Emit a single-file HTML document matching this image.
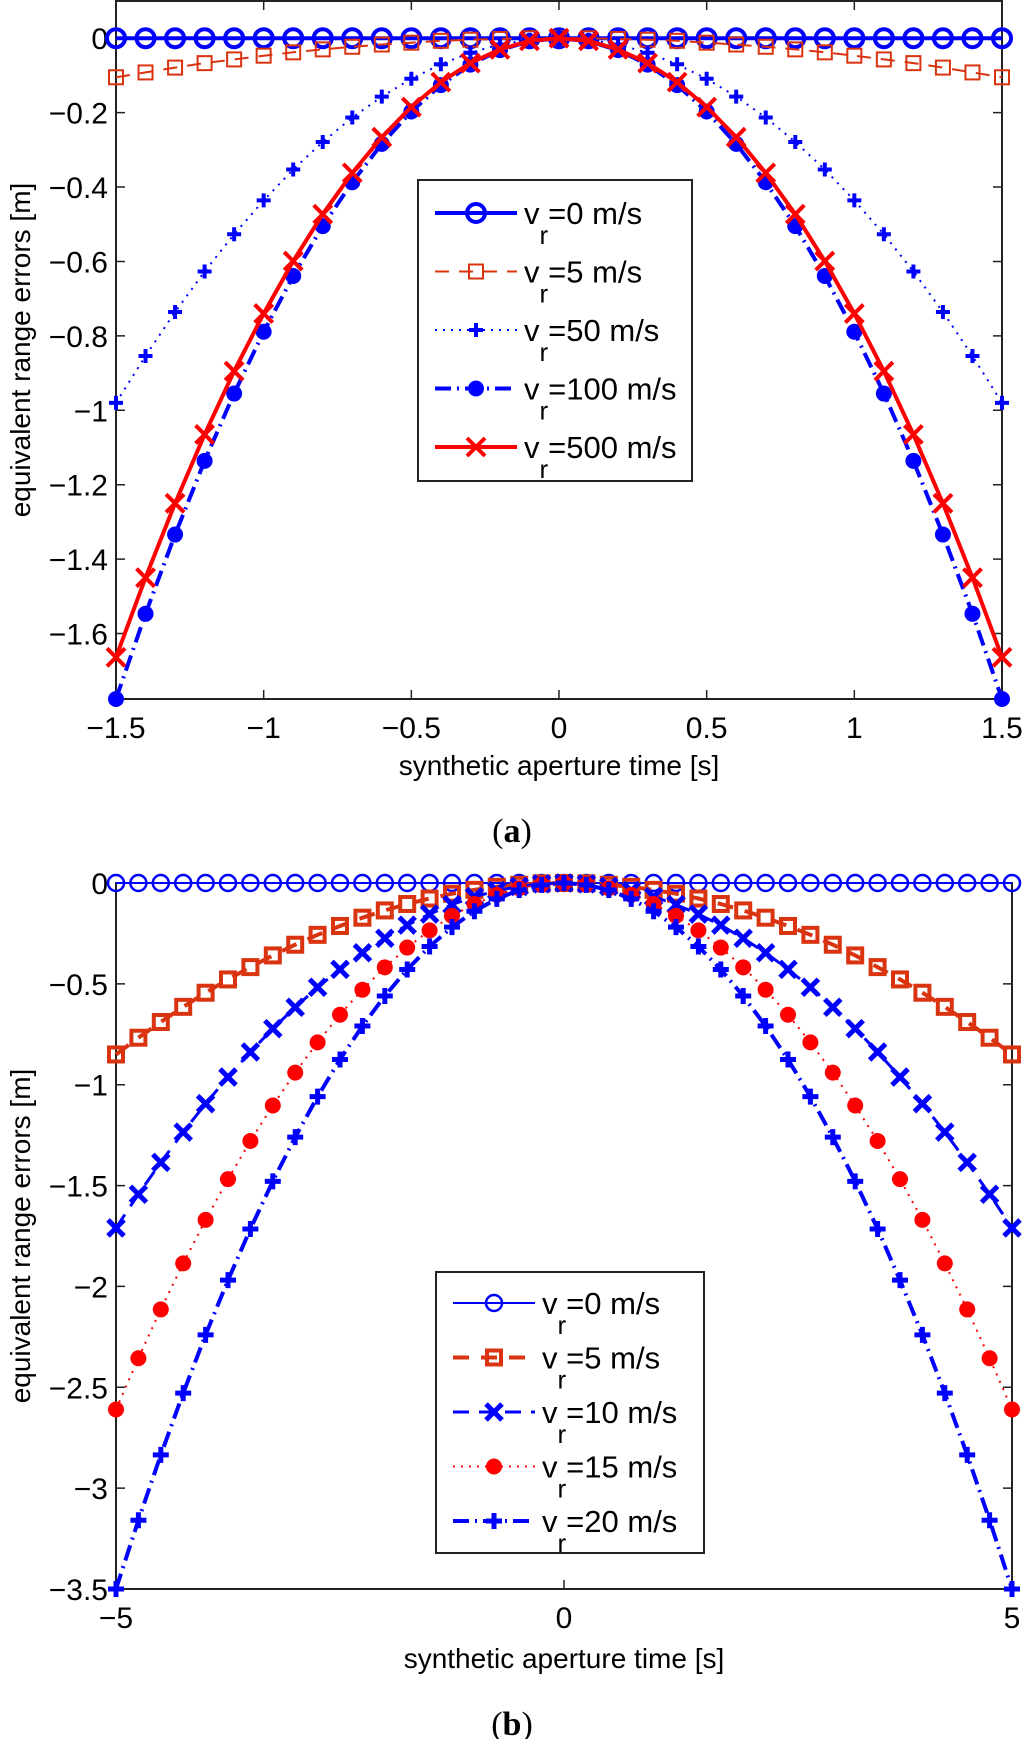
<!DOCTYPE html>
<html><head><meta charset="utf-8"><title>Equivalent range errors</title>
<style>
html,body{margin:0;padding:0;background:#fff;}
svg{display:block;font-family:"Liberation Sans",Arial,sans-serif;}
</style></head>
<body>
<svg id="fig" width="1024" height="1739" viewBox="0 0 1024 1739" xmlns="http://www.w3.org/2000/svg"></svg>
<script>
// ---------- Panel (a) data ----------
const timeA = [-1.5,-1.4,-1.3,-1.2,-1.1,-1.0,-0.9,-0.8,-0.7,-0.6,-0.5,-0.4,-0.3,-0.2,-0.1,0,0.1,0.2,0.3,0.4,0.5,0.6,0.7,0.8,0.9,1.0,1.1,1.2,1.3,1.4,1.5];
const a_v0 = [0,0,0,0,0,0,0,0,0,0,0,0,0,0,0,0,0,0,0,0,0,0,0,0,0,0,0,0,0,0,0];
const a_v5 = [-0.105,-0.092,-0.079,-0.067,-0.057,-0.047,-0.038,-0.030,-0.023,-0.017,-0.012,-0.007,-0.004,-0.002,0,0,0,-0.002,-0.004,-0.007,-0.012,-0.017,-0.023,-0.030,-0.038,-0.047,-0.057,-0.067,-0.079,-0.092,-0.105];
const a_v50 = [-0.980,-0.854,-0.736,-0.627,-0.527,-0.436,-0.353,-0.279,-0.213,-0.157,-0.109,-0.070,-0.039,-0.017,-0.004,0,-0.004,-0.017,-0.039,-0.070,-0.109,-0.157,-0.213,-0.279,-0.353,-0.436,-0.527,-0.627,-0.736,-0.854,-0.980];
const a_v100 = [-1.776,-1.547,-1.334,-1.136,-0.955,-0.789,-0.639,-0.505,-0.387,-0.284,-0.197,-0.126,-0.071,-0.032,-0.008,0,-0.008,-0.032,-0.071,-0.126,-0.197,-0.284,-0.387,-0.505,-0.639,-0.789,-0.955,-1.136,-1.334,-1.547,-1.776];
const a_v500 = [-1.664,-1.450,-1.250,-1.065,-0.895,-0.740,-0.599,-0.473,-0.362,-0.266,-0.185,-0.118,-0.067,-0.030,-0.007,0,-0.007,-0.030,-0.067,-0.118,-0.185,-0.266,-0.362,-0.473,-0.599,-0.740,-0.895,-1.065,-1.250,-1.450,-1.664];
const a_xticks = [-1.5,-1,-0.5,0,0.5,1,1.5];
const a_xtickLabels = ["\u22121.5","\u22121","\u22120.5","0","0.5","1","1.5"];
const a_yticks = [0,-0.2,-0.4,-0.6,-0.8,-1,-1.2,-1.4,-1.6];
const a_ytickLabels = ["0","\u22120.2","\u22120.4","\u22120.6","\u22120.8","\u22121","\u22121.2","\u22121.4","\u22121.6"];

// ---------- Panel (b) data ----------
const timeB = [-5,-4.75,-4.5,-4.25,-4,-3.75,-3.5,-3.25,-3,-2.75,-2.5,-2.25,-2,-1.75,-1.5,-1.25,-1,-0.75,-0.5,-0.25,0,0.25,0.5,0.75,1,1.25,1.5,1.75,2,2.25,2.5,2.75,3,3.25,3.5,3.75,4,4.25,4.5,4.75,5];
const b_v0 = [0,0,0,0,0,0,0,0,0,0,0,0,0,0,0,0,0,0,0,0,0,0,0,0,0,0,0,0,0,0,0,0,0,0,0,0,0,0,0,0,0];
const b_v5 = [-0.850,-0.767,-0.689,-0.614,-0.544,-0.478,-0.417,-0.359,-0.306,-0.257,-0.213,-0.172,-0.136,-0.104,-0.077,-0.053,-0.034,-0.019,-0.009,-0.002,0,-0.002,-0.009,-0.019,-0.034,-0.053,-0.077,-0.104,-0.136,-0.172,-0.213,-0.257,-0.306,-0.359,-0.417,-0.478,-0.544,-0.614,-0.689,-0.767,-0.850];
const b_v10 = [-1.710,-1.543,-1.385,-1.235,-1.094,-0.962,-0.838,-0.722,-0.616,-0.517,-0.428,-0.346,-0.274,-0.209,-0.154,-0.107,-0.068,-0.038,-0.017,-0.004,0,-0.004,-0.017,-0.038,-0.068,-0.107,-0.154,-0.209,-0.274,-0.346,-0.428,-0.517,-0.616,-0.722,-0.838,-0.962,-1.094,-1.235,-1.385,-1.543,-1.710];
const b_v15 = [-2.610,-2.356,-2.114,-1.886,-1.670,-1.468,-1.279,-1.103,-0.940,-0.790,-0.653,-0.529,-0.418,-0.320,-0.235,-0.163,-0.104,-0.059,-0.026,-0.007,0,-0.007,-0.026,-0.059,-0.104,-0.163,-0.235,-0.320,-0.418,-0.529,-0.653,-0.790,-0.940,-1.103,-1.279,-1.468,-1.670,-1.886,-2.114,-2.356,-2.610];
const b_v20 = [-3.500,-3.159,-2.835,-2.529,-2.240,-1.969,-1.715,-1.479,-1.260,-1.059,-0.875,-0.709,-0.560,-0.429,-0.315,-0.219,-0.140,-0.079,-0.035,-0.009,0,-0.009,-0.035,-0.079,-0.140,-0.219,-0.315,-0.429,-0.560,-0.709,-0.875,-1.059,-1.260,-1.479,-1.715,-1.969,-2.240,-2.529,-2.835,-3.159,-3.500];
const b_xticks = [-5,0,5];
const b_xtickLabels = ["\u22125","0","5"];
const b_yticks = [0,-0.5,-1,-1.5,-2,-2.5,-3,-3.5];
const b_ytickLabels = ["0","\u22120.5","\u22121","\u22121.5","\u22122","\u22122.5","\u22123","\u22123.5"];

const NS = "http://www.w3.org/2000/svg";
const fig = document.getElementById("fig");
function mk(tag, attrs, parent){
  const e = document.createElementNS(NS, tag);
  for (const k in attrs) e.setAttribute(k, attrs[k]);
  (parent||fig).appendChild(e);
  return e;
}
const BLUE = "#0000ff", RED = "#ff0000", ORANGE = "#d93310";

function drawMarker(g, type, x, y, color, size, lw){
  let m;
  if (type === "o") {
    m = mk("circle", {cx:x, cy:y, r:size, fill:"none", stroke:color, "stroke-width":lw}, g);
  } else if (type === "of") {
    m = mk("circle", {cx:x, cy:y, r:size, fill:color, stroke:"none"}, g);
  } else if (type === "s") {
    m = mk("rect", {x:x-size, y:y-size, width:2*size, height:2*size, fill:"none", stroke:color, "stroke-width":lw}, g);
  } else if (type === "+") {
    m = mk("path", {d:`M${x-size},${y}H${x+size}M${x},${y-size}V${y+size}`, stroke:color, "stroke-width":lw, fill:"none"}, g);
  } else if (type === "x") {
    m = mk("path", {d:`M${x-size},${y-size}L${x+size},${y+size}M${x-size},${y+size}L${x+size},${y-size}`, stroke:color, "stroke-width":lw, fill:"none"}, g);
  }
  
  
  return m;
}

function panel(cfg){
  const {L, R, T, B, xmin, xmax, ymin, ymax} = cfg;
  const sx = v => L + (v - xmin) / (xmax - xmin) * (R - L);
  const sy = v => T + (ymax - v) / (ymax - ymin) * (B - T);
  const g = mk("g", {});
  
  

  const box = mk("rect", {x:L, y:T, width:R-L, height:B-T, fill:"none", stroke:"#222", "stroke-width":2}, g);
  
  

  cfg.xticks.forEach((v,i)=>{
    const x = sx(v);
    const t1 = mk("path", {d:`M${x},${B}v-9M${x},${T}v9`, stroke:"#222", "stroke-width":1.5}, g);
    
    
    const tl = mk("text", {x:x, y:B+39, "font-size":30, "text-anchor":"middle", fill:"#000"}, g);
    tl.textContent = cfg.xtickLabels[i];
    
    
  });
  cfg.yticks.forEach((v,i)=>{
    const y = sy(v);
    const t1 = mk("path", {d:`M${L},${y}h9M${R},${y}h-9`, stroke:"#222", "stroke-width":1.5}, g);
    
    
    const tl = mk("text", {x:L-8, y:y+11, "font-size":30, "text-anchor":"end", fill:"#000"}, g);
    tl.textContent = cfg.ytickLabels[i];
    
    
  });

  cfg.series.forEach(s=>{
    const sg = mk("g", {}, g);
    
    
    const pts = cfg.xs.map((v,i)=>`${sx(v).toFixed(1)},${sy(s.ys[i]).toFixed(1)}`).join(" ");
    const pl = mk("polyline", {points:pts, fill:"none", stroke:s.color, "stroke-width":s.lw, "stroke-dasharray":s.dash||"none", "stroke-linejoin":"round"}, sg);
    
    
    cfg.xs.forEach((v,i)=>drawMarker(sg, s.marker, sx(v), sy(s.ys[i]), s.color, s.ms, s.mlw));
  });

  const xl = mk("text", {x:(L+R)/2, y:cfg.xlabelY, "font-size":28, "text-anchor":"middle", fill:"#000"}, g);
  xl.textContent = "synthetic aperture time [s]";
  
  
  const cy = (T+B)/2;
  const yl = mk("text", {x:0, y:0, "font-size":28, "text-anchor":"middle", fill:"#000", transform:`translate(30,${cy}) rotate(-90)`}, g);
  yl.textContent = "equivalent range errors [m]";
  
  
  const cap = mk("text", {x:512, y:cfg.captionY, "font-size":34, "font-family":"Liberation Serif, serif", "text-anchor":"middle", fill:"#000"}, g);
  cap.innerHTML = '(<tspan font-weight="bold">' + cfg.caption + '</tspan>)';
  
  

  const lg = cfg.legend;
  const lgG = mk("g", {}, g);
  
  
  const lb = mk("rect", {x:lg.x, y:lg.y, width:lg.w, height:lg.h, fill:"#fff", stroke:"#222", "stroke-width":2}, lgG);
  
  
  cfg.series.forEach((s,i)=>{
    const ey = lg.y0 + i*lg.dy;
    const eg = mk("g", {}, lgG);
    
    
    mk("line", {x1:lg.x+17, y1:ey, x2:lg.x+99, y2:ey, stroke:s.color, "stroke-width":s.lw, "stroke-dasharray":s.dash||"none"}, eg);
    drawMarker(eg, s.marker, lg.x+58, ey, s.color, s.ms, s.mlw);
    const t = mk("text", {x:lg.x+106, y:ey+11, "font-size":31, fill:"#000"}, eg);
    t.innerHTML = 'v<tspan dy="20" font-size="26">r</tspan><tspan dy="-20">=' + s.label + ' m/s</tspan>';
  });
}

panel({
  name:"panel-a-chart", L:116, R:1002, T:1, B:699, xmin:-1.5, xmax:1.5, ymin:-1.776, ymax:0.1,
  xs:timeA, xticks:a_xticks, xtickLabels:a_xtickLabels, yticks:a_yticks, ytickLabels:a_ytickLabels,
  xlabelY:775, captionY:842, caption:"a",
  series:[
    {name:"series-vr-0", ys:a_v0, color:BLUE, lw:4, marker:"o", ms:9, mlw:4, label:"0"},
    {name:"series-vr-5", ys:a_v5, color:ORANGE, lw:2, dash:"14,10", marker:"s", ms:7, mlw:2, label:"5"},
    {name:"series-vr-50", ys:a_v50, color:BLUE, lw:2, dash:"2,6", marker:"+", ms:7, mlw:4, label:"50"},
    {name:"series-vr-100", ys:a_v100, color:BLUE, lw:4, dash:"16,6,2,6", marker:"of", ms:8, mlw:0, label:"100"},
    {name:"series-vr-500", ys:a_v500, color:RED, lw:4, marker:"x", ms:9, mlw:4, label:"500"}
  ],
  legend:{x:418, y:180, w:274, h:301, y0:213, dy:58.5}
});

panel({
  name:"panel-b-chart", L:116, R:1012, T:883, B:1589, xmin:-5, xmax:5, ymin:-3.5, ymax:0,
  xs:timeB, xticks:b_xticks, xtickLabels:b_xtickLabels, yticks:b_yticks, ytickLabels:b_ytickLabels,
  xlabelY:1668, captionY:1735, caption:"b",
  series:[
    {name:"series-vr-0", ys:b_v0, color:BLUE, lw:2, marker:"o", ms:8, mlw:2.5, label:"0"},
    {name:"series-vr-5", ys:b_v5, color:ORANGE, lw:4, dash:"16,12", marker:"s", ms:7, mlw:4, label:"5"},
    {name:"series-vr-10", ys:b_v10, color:BLUE, lw:3, dash:"16,10", marker:"x", ms:8, mlw:5, label:"10"},
    {name:"series-vr-15", ys:b_v15, color:RED, lw:2, dash:"2,6", marker:"of", ms:8, mlw:0, label:"15"},
    {name:"series-vr-20", ys:b_v20, color:BLUE, lw:4, dash:"16,6,2,6", marker:"+", ms:8, mlw:5, label:"20"}
  ],
  legend:{x:436, y:1272, w:268, h:281, y0:1303, dy:54.5}
});
</script>
</body></html>
